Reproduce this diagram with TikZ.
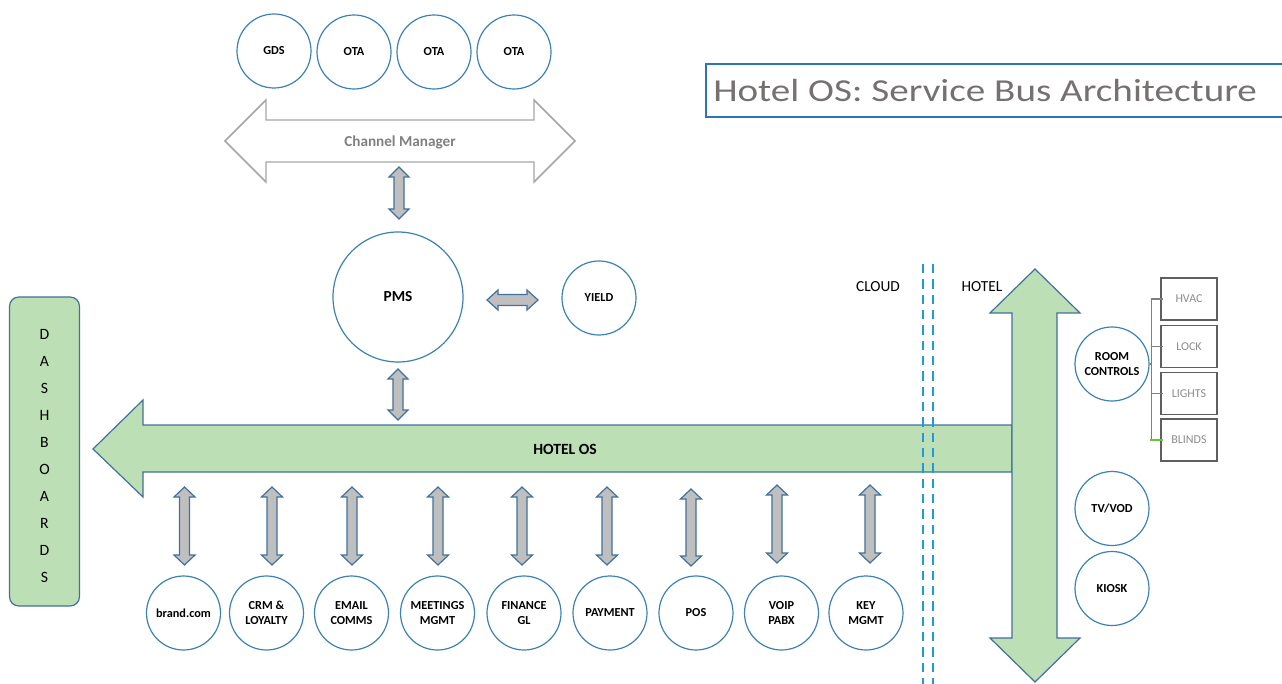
\documentclass[tikz,border=0pt]{standalone}
\usepackage{fontspec}
\setmainfont{Carlito}
\definecolor{cblue}{HTML}{3C82B4}
\definecolor{aborder}{HTML}{41719C}
\definecolor{agray}{HTML}{BFBFBF}
\definecolor{bgreen}{HTML}{BCDFB5}
\definecolor{dashblue}{HTML}{1E9BE0}
\definecolor{cmgray}{HTML}{A6A6A6}
\definecolor{cmtext}{HTML}{808080}
\definecolor{boxborder}{HTML}{5F5F5F}
\definecolor{boxtext}{HTML}{8C8C8C}
\definecolor{titletext}{HTML}{767171}
\definecolor{titleborder}{HTML}{2E75B6}
\definecolor{tickgreen}{HTML}{5CC936}
\newcommand{\vdarrow}[7]{% style, x, ytop, ybot, half shaft, half head, head length
  \draw[#1] (#2,#3) -- (#2+#6,#3+#7) -- (#2+#5,#3+#7) -- (#2+#5,#4-#7) -- (#2+#6,#4-#7) -- (#2,#4)
    -- (#2-#6,#4-#7) -- (#2-#5,#4-#7) -- (#2-#5,#3+#7) -- (#2-#6,#3+#7) -- cycle;}
\newcommand{\hdarrow}[7]{% style, y, xleft, xright, half shaft, half head, head length
  \draw[#1] (#3,#2) -- (#3+#7,#2-#6) -- (#3+#7,#2-#5) -- (#4-#7,#2-#5) -- (#4-#7,#2-#6) -- (#4,#2)
    -- (#4-#7,#2+#6) -- (#4-#7,#2+#5) -- (#3+#7,#2+#5) -- (#3+#7,#2+#6) -- cycle;}
\tikzset{
  svc/.style={circle, draw=cblue, line width=0.9pt, fill=white, minimum size=55.5pt, inner sep=0pt,
    align=center, font=\bfseries\fontsize{9.2}{11.3}\selectfont},
  smallarr/.style={draw=aborder, fill=agray, line width=0.9pt, line join=miter},
  cmarr/.style={draw=cmgray, fill=white, line width=1.1pt, line join=miter},
  busarr/.style={draw=aborder, fill=bgreen, line width=0.9pt, line join=miter},
  devbox/.style={rectangle, draw=boxborder, line width=1pt, minimum width=42pt, minimum height=31.5pt,
    inner sep=0pt, text=boxtext, font=\fontsize{9}{11}\selectfont},
  conn/.style={draw=boxborder!80, line width=0.9pt},
  plain/.style={font=\fontsize{11.5}{13}\selectfont, inner sep=0pt},
}
\begin{document}
\begin{tikzpicture}[x=0.75pt, y=-0.75pt]
\useasboundingbox (0,0) rectangle (1282,684);
\fill[white] (0,0) rectangle (1282,684);

% title
\draw[titleborder, line width=1pt] (1290,64) -- (706,64) -- (706,117) -- (1290,117);
\node[anchor=base west, inner sep=0pt, text=titletext, font=\fontsize{24}{28}\selectfont] (title) at (713,102) {\scalebox{1.222}[1]{Hotel OS: Service Bus Architecture}};

% top circles
\node[svc] (gds) at (274,51) {GDS};
\node[svc] (ota1) at (354,52) {OTA};
\node[svc] (ota2) at (434,52) {OTA};
\node[svc] (ota3) at (514,52) {OTA};

% channel manager
\hdarrow{cmarr}{141}{225}{575}{21}{41}{41}
\node[font=\bfseries\fontsize{11.4}{13}\selectfont, text=cmtext] (cm) at (400,142) {Channel Manager};

% PMS and yield
\node[svc, minimum size=97.5pt, font=\bfseries\fontsize{11.5}{13}\selectfont] (pms) at (398,297) {PMS};
\node[svc] (yield) at (599,298) {YIELD};
\vdarrow{smallarr}{399}{167}{219}{5}{10}{10}
\hdarrow{smallarr}{300}{487}{538}{5.5}{10}{11}
\vdarrow{smallarr}{398}{369}{420}{5}{10}{10}

% bus
\draw[busarr] (93,449) -- (143,400) -- (143,425) -- (1012,425) -- (1012,472) -- (143,472) -- (143,497) -- cycle;
\draw[busarr] (1035,269) -- (1080,313) -- (1057,313) -- (1057,638) -- (1080,638) -- (1035,682) -- (990,638) -- (1012,638) -- (1012,313) -- (990,313) -- cycle;
\node[font=\bfseries\fontsize{11.7}{13}\selectfont] (hos) at (565,449) {HOTEL OS};

% cloud / hotel divider
\draw[dashblue, line width=1.9pt, dash pattern=on 7pt off 4.5pt] (923,264) -- (923,690);
\draw[dashblue, line width=1.9pt, dash pattern=on 7pt off 4.5pt] (933,264) -- (933,690);
\node[plain] (cloud) at (878,287) {CLOUD};
\node[plain] (hotel) at (982,287) {HOTEL};

% dashboards
\node[draw=aborder, fill=bgreen, line width=0.9pt, rounded corners=7pt, minimum width=52.5pt, minimum height=231.75pt,
  inner sep=0pt] (dash) at (44.5,451.5) {};
\node[align=center, inner sep=0pt, font=\fontsize{11.8}{20.2}\selectfont] (dashlbl) at (44.5,456)
  {D\\A\\S\\H\\B\\O\\A\\R\\D\\S};

% bottom services
\node[svc] (brand) at (183.5,613) {brand.com};
\node[svc] (crm) at (266.5,613) {CRM \&\\LOYALTY};
\node[svc] (email) at (351.5,613) {EMAIL\\COMMS};
\node[svc] (meet) at (437.5,613) {MEETINGS\\MGMT};
\node[svc] (fin) at (524,613) {FINANCE\\GL};
\node[svc] (pay) at (610,613) {PAYMENT};
\node[svc] (pos) at (696,613) {POS};
\node[svc] (voip) at (781.5,613) {VOIP\\PABX};
\node[svc] (key) at (866,613) {KEY\\MGMT};
\vdarrow{smallarr}{184.5}{487}{565}{5}{10.5}{10}
\vdarrow{smallarr}{272}{487}{565}{5}{10.5}{10}
\vdarrow{smallarr}{352}{487}{565}{5}{10.5}{10}
\vdarrow{smallarr}{438}{487}{565}{5}{10.5}{10}
\vdarrow{smallarr}{522}{487}{565}{5}{10.5}{10}
\vdarrow{smallarr}{607}{487}{565}{5}{10.5}{10}
\vdarrow{smallarr}{691}{489}{566}{5}{10.5}{10}
\vdarrow{smallarr}{777}{485}{563}{5}{10.5}{10}
\vdarrow{smallarr}{870}{485}{563}{5}{10.5}{10}

% hotel-side devices
\node[svc] (rc) at (1112,364) {ROOM\\CONTROLS};
\node[svc] (tv) at (1112,508.5) {TV/VOD};
\node[svc] (kiosk) at (1112,588.5) {KIOSK};
\node[devbox] (hvac) at (1189,299) {HVAC};
\node[devbox] (lock) at (1189,346.5) {LOCK};
\node[devbox] (lights) at (1189,393.5) {LIGHTS};
\node[devbox] (blinds) at (1189,440) {BLINDS};
\draw[conn] (rc.east) -- ++(2,0) |- ([xshift=2.25pt]hvac.west);
\draw[conn] (rc.east) -- ++(2,0) |- ([xshift=2.25pt]lock.west);
\draw[conn] (rc.east) -- ++(2,0) |- ([xshift=2.25pt]lights.west);
\draw[conn] (rc.east) -- ++(2,0) |- ([xshift=2.25pt]blinds.west);
\draw[tickgreen, line width=0.9pt] ([xshift=-7.5pt]blinds.west) -- ([xshift=2.25pt]blinds.west);
\end{tikzpicture}
\end{document}
